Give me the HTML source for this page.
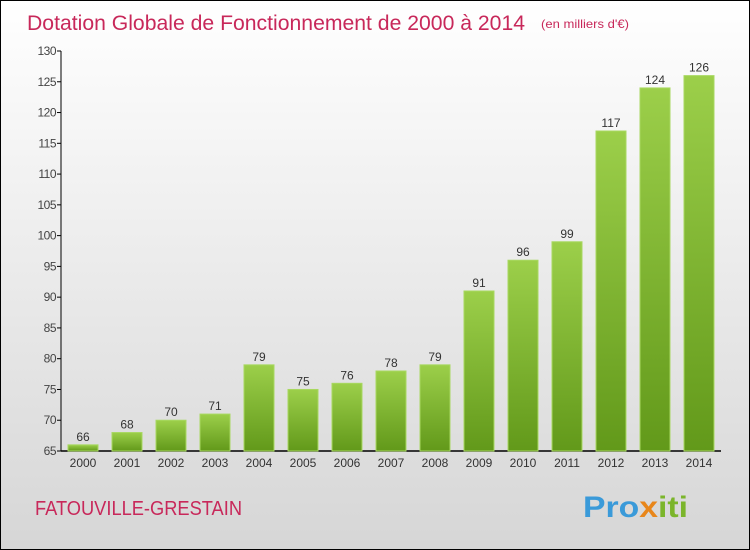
<!DOCTYPE html>
<html><head><meta charset="utf-8"><style>
body{margin:0}
#c{width:748px;height:548px;border:1px solid #000;background:linear-gradient(#fff,#d6d6d6);position:relative;font-family:"Liberation Sans",sans-serif}
</style></head><body>
<div id="c">
<svg width="748" height="548" style="position:absolute;left:0;top:0">
<defs><linearGradient id="g" x1="0" y1="0" x2="0" y2="1"><stop offset="0" stop-color="#9ccf4a"/><stop offset="1" stop-color="#62991a"/></linearGradient></defs>
<text x="26" y="29" font-size="21" fill="#c8285a" textLength="498" lengthAdjust="spacingAndGlyphs">Dotation Globale de Fonctionnement de 2000 à 2014</text>
<text x="540" y="27" font-size="12" fill="#c8285a" textLength="88" lengthAdjust="spacingAndGlyphs">(en milliers d'€)</text>
<g id="ax"></g><g id="bars"></g>
<text x="34" y="514" font-size="20" fill="#c8285a" textLength="207" lengthAdjust="spacingAndGlyphs">FATOUVILLE-GRESTAIN</text>
<text x="582" y="516" font-size="30" font-weight="bold" fill="#3a9ad9" textLength="105" lengthAdjust="spacingAndGlyphs">Pro<tspan fill="#e8861a">x</tspan><tspan fill="#7bb52b">iti</tspan></text>
</svg>
</div>
<script>
const years=["2000","2001","2002","2003","2004","2005","2006","2007","2008","2009","2010","2011","2012","2013","2014"];
const values=[66,68,70,71,79,75,76,78,79,91,96,99,117,124,126];
const yTicks=[65,70,75,80,85,90,95,100,105,110,115,120,125,130];
const NS="http://www.w3.org/2000/svg";
function y(v){return 450-(v-65)*400/65;}
function x(i){return 82+i*44;}
function mk(t,a,p,txt){const e=document.createElementNS(NS,t);for(const k in a)e.setAttribute(k,a[k]);if(txt!==undefined)e.textContent=txt;p.appendChild(e);return e;}
const ax=document.getElementById('ax'),bars=document.getElementById('bars');
let l=mk('line',{x1:60,y1:50,x2:60,y2:450,stroke:'#000'},ax);


l=mk('line',{x1:60,y1:450,x2:720,y2:450,stroke:'#000','stroke-width':1.5},ax);


yTicks.forEach(v=>{
 mk('line',{x1:56,y1:y(v),x2:60,y2:y(v),stroke:'#000'},ax);
 const t=mk('text',{x:55,y:y(v)+4,'font-size':12,fill:'#444','text-anchor':'end','letter-spacing':'-0.5'},ax,v);
 
 
});
years.forEach((yr,i)=>{
 const v=values[i];
 const r=mk('rect',{x:x(i)-15,y:y(v),width:30,height:450-y(v),fill:'url(#g)',stroke:'#a8d860','stroke-width':1},bars);
 
 
 const t=mk('text',{x:x(i),y:y(v)-4,'font-size':12,fill:'#333','text-anchor':'middle'},bars,v);
 
 
 const xl=mk('text',{x:x(i),y:466,'font-size':12,fill:'#333','text-anchor':'middle'},ax,yr);
 
 
});
</script>
</body></html>
